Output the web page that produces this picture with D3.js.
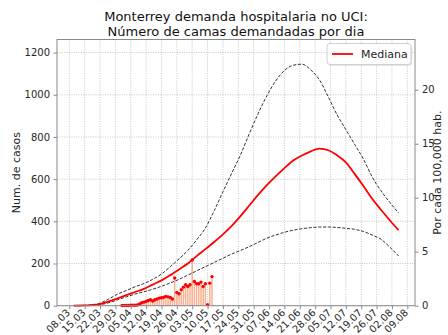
<!DOCTYPE html>
<html>
<head>
<meta charset="utf-8">
<script src="https://cdn.jsdelivr.net/npm/d3@7"></script>
<style>
  html, body { margin: 0; padding: 0; background: #fff; }
  svg { display: block; font-family: "DejaVu Sans", sans-serif; }
</style>
</head>
<body>
<svg id="chart" width="448" height="335"></svg>
<script>
// Projection dates (every 4 days, 2020)
const curveDates = [
  "2020-03-10","2020-03-14","2020-03-18","2020-03-22","2020-03-26","2020-03-30",
  "2020-04-03","2020-04-07","2020-04-11","2020-04-15","2020-04-19","2020-04-23",
  "2020-04-27","2020-05-01","2020-05-05","2020-05-09","2020-05-13","2020-05-17",
  "2020-05-21","2020-05-25","2020-05-29","2020-06-02","2020-06-06","2020-06-10",
  "2020-06-14","2020-06-18","2020-06-22","2020-06-26","2020-06-30","2020-07-04",
  "2020-07-08","2020-07-12","2020-07-16","2020-07-20","2020-07-24","2020-07-28",
  "2020-08-01","2020-08-05"
];
// Median projected demand of beds
const mediana = [0,1,3,8,20,35,50,65,80,100,120,145,172,200,235,268,302,338,378,425,
  475,525,572,613,652,688,712,732,745,737,713,680,625,567,507,455,405,358];
// Upper band
const superior = [0,1,3,12,32,55,72,90,105,125,150,185,222,262,312,368,450,540,628,715,
  815,910,995,1065,1115,1140,1145,1118,1070,990,905,835,765,695,610,545,490,440];
// Lower band
const inferior = [0,1,2,5,14,28,42,55,66,78,92,108,125,145,165,185,205,225,245,262,
  280,300,320,335,348,358,365,370,373,373,371,367,362,352,335,315,278,236];

// Observed daily beds, one value per day starting on obsStart
const obsStart = "2020-04-01";
const observados = [1,1,1,1,2,2,2,3,8,14,17,20,25,28,22,28,32,36,38,40,44,42,39,32,
  131,63,57,76,88,99,91,99,217,115,104,104,112,91,104,5,107,138];

// Weekly tick labels
const tickLabels = ["08.03","15.03","22.03","29.03","05.04","12.04","19.04","26.04",
  "03.05","10.05","17.05","24.05","31.05","07.06","14.06","21.06","28.06","05.07",
  "12.07","19.07","26.07","02.08","09.08"];
const leftTicks = [0,200,400,600,800,1000,1200];
const rightTicks = [0,5,10,15,20];
const poblacion = 5119504;

const svg = d3.select("#chart");
const m = {left: 57, right: 415, top: 39.5, bottom: 305.7};
const parse = d3.utcParse("%Y-%m-%d");
const tickDates = tickLabels.map(s => {
  const [d, mo] = s.split(".").map(Number);
  return new Date(Date.UTC(2020, mo - 1, d));
});

const day = 864e5;
const x = d3.scaleUtc()
  .domain([new Date(Date.UTC(2020,2,8) - 5.6*day), new Date(Date.UTC(2020,2,8) + 157.5*day)])
  .range([m.left, m.right]);
const y = d3.scaleLinear().domain([0, 1262]).range([m.bottom, m.top]);
const yR = d3.scaleLinear().domain([0, 1262*1e5/poblacion]).range([m.bottom, m.top]);

// grid
const grid = svg.append("g").attr("stroke", "#b8b8b8").attr("stroke-width", 0.8)
  .attr("stroke-dasharray", "1,1.4").attr("fill", "none");
tickDates.forEach(d => grid.append("line")
  .attr("x1", x(d)).attr("x2", x(d)).attr("y1", m.top).attr("y2", m.bottom));
leftTicks.forEach(v => grid.append("line")
  .attr("x1", m.left).attr("x2", m.right).attr("y1", y(v)).attr("y2", y(v)));

const curve = curveDates.map((d, i) => ({d: parse(d), med: mediana[i], hi: superior[i], lo: inferior[i]}));
const obs = observados.map((v, i) => ({d: new Date(parse(obsStart).getTime() + i*day), v}));

// observed bars
svg.append("g").selectAll("rect").data(obs).join("rect")
  .attr("x", d => x(d.d) - 0.75).attr("width", 1.5)
  .attr("y", d => y(d.v)).attr("height", d => y(0) - y(d.v))
  .attr("fill", "#f9a27f").attr("opacity", 0.85);

const line = key => d3.line().x(d => x(d.d)).y(d => y(d[key])).curve(d3.curveMonotoneX);
svg.append("path").datum(curve).attr("d", line("hi"))
  .attr("fill", "none").attr("stroke", "#333").attr("stroke-width", 1).attr("stroke-dasharray", "3.2,1.6");
svg.append("path").datum(curve).attr("d", line("lo"))
  .attr("fill", "none").attr("stroke", "#333").attr("stroke-width", 1).attr("stroke-dasharray", "3.2,1.6");
svg.append("path").datum(curve).attr("d", line("med"))
  .attr("fill", "none").attr("stroke", "#ff0000").attr("stroke-width", 1.8);

// observed points
svg.append("g").selectAll("circle").data(obs).join("circle")
  .attr("cx", d => x(d.d)).attr("cy", d => y(d.v)).attr("r", 1.7).attr("fill", "#ff0000");

// frame
svg.append("rect").attr("x", m.left).attr("y", m.top)
  .attr("width", m.right - m.left).attr("height", m.bottom - m.top)
  .attr("fill", "none").attr("stroke", "#8a8a8a").attr("stroke-width", 1);

const styleAxis = g => {
  g.select(".domain").remove();
  g.selectAll(".tick line").attr("stroke", "#8a8a8a");
  g.selectAll(".tick text").attr("fill", "#262626").attr("font-size", 10)
    .attr("font-family", "DejaVu Sans, sans-serif");
};

svg.append("g").attr("transform", `translate(${m.left},0)`)
  .call(d3.axisLeft(y).tickValues(leftTicks).tickSize(3.5).tickPadding(3.5).tickFormat(d3.format("d")))
  .call(styleAxis);
svg.append("g").attr("transform", `translate(${m.right},0)`)
  .call(d3.axisRight(yR).tickValues(rightTicks).tickSize(3.5).tickPadding(3.5).tickFormat(d3.format("d")))
  .call(styleAxis);
const xa = svg.append("g").attr("transform", `translate(0,${m.bottom})`)
  .call(d3.axisBottom(x).tickValues(tickDates).tickSize(3.5).tickFormat((d, i) => tickLabels[i]))
  .call(styleAxis);
xa.selectAll(".tick text")
  .attr("text-anchor", "end").attr("x", 0).attr("y", 0).attr("dy", 0)
  .attr("transform", "translate(1,7.5) rotate(-45)");

// titles
const title = svg.append("text").attr("x", 236).attr("text-anchor", "middle")
  .attr("font-size", 13).attr("fill", "#111");
title.append("tspan").attr("x", 236).attr("y", 20.5).text("Monterrey demanda hospitalaria no UCI:");
title.append("tspan").attr("x", 236).attr("y", 35.5).text("Número de camas demandadas por dia");

svg.append("text").attr("transform", `translate(20,${(m.top+m.bottom)/2}) rotate(-90)`)
  .attr("text-anchor", "middle").attr("font-size", 11).attr("fill", "#262626").text("Num. de casos");
svg.append("text").attr("transform", `translate(441,${(m.top+m.bottom)/2}) rotate(-90)`)
  .attr("text-anchor", "middle").attr("font-size", 11).attr("fill", "#262626").text("Por cada 100,000 hab.");

// legend
const lg = svg.append("g").attr("transform", "translate(327,43.5)");
lg.append("rect").attr("x", 1.2).attr("y", 1.2).attr("width", 84).attr("height", 21).attr("rx", 3)
  .attr("fill", "#000").attr("opacity", 0.12);
lg.append("rect").attr("width", 84).attr("height", 21).attr("rx", 3)
  .attr("fill", "#fff").attr("stroke", "#cfcfcf").attr("stroke-width", 1);
lg.append("line").attr("x1", 5).attr("x2", 26).attr("y1", 10.5).attr("y2", 10.5)
  .attr("stroke", "#ff0000").attr("stroke-width", 1.8);
lg.append("text").attr("x", 34).attr("y", 14.5).attr("font-size", 11).attr("fill", "#262626").text("Mediana");
</script>
</body>
</html>
